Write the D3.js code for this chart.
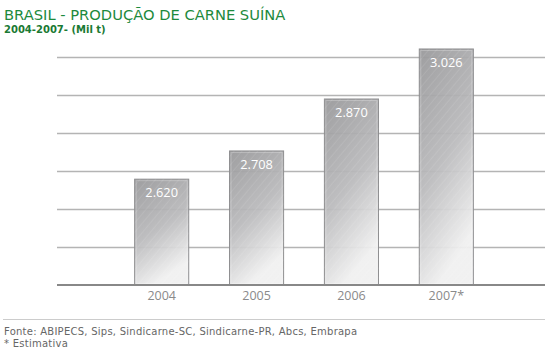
<!DOCTYPE html>
<html>
<head>
<meta charset="utf-8">
<script src="https://cdn.jsdelivr.net/npm/d3@7"></script>
<style>
  html, body { margin: 0; padding: 0; background: #fff; }
  svg { display: block; }
</style>
</head>
<body>
<svg id="chart" width="545" height="355"></svg>
<script>
// ---- data ----
const categories = ["2004", "2005", "2006", "2007*"];
const values = [2620, 2708, 2870, 3026];
const valueLabels = ["2.620", "2.708", "2.870", "3.026"];
const title = "BRASIL - PRODUÇÃO DE CARNE SUÍNA";
const subtitle = "2004-2007- (Mil t)";
const footnotes = ["Fonte: ABIPECS, Sips, Sindicarne-SC, Sindicarne-PR, Abcs, Embrapa", "* Estimativa"];
const yDomain = [2290, 3001];
const gridCount = 6;

// ---- layout ----
const W = 545, H = 355;
const plot = { left: 57, right: 545, top: 57, bottom: 285 };
const svg = d3.select("#chart");

const x = d3.scaleBand()
  .domain(categories)
  .range([87.2, 520.8])
  .paddingInner(0.43)
  .paddingOuter(0.5);

const y = d3.scaleLinear().domain(yDomain).range([plot.bottom, plot.top]);

// defs: gradient + hatch
const defs = svg.append("defs");
const grad = defs.append("linearGradient")
  .attr("id", "barGrad")
  .attr("x1", "0").attr("y1", "0").attr("x2", "0.35").attr("y2", "1");
grad.append("stop").attr("offset", "0%").attr("stop-color", "#98989a");
grad.append("stop").attr("offset", "55%").attr("stop-color", "#bababc");
grad.append("stop").attr("offset", "100%").attr("stop-color", "#f0f0f0");

const pat = defs.append("pattern")
  .attr("id", "hatch").attr("patternUnits", "userSpaceOnUse")
  .attr("width", 6).attr("height", 6)
  .attr("patternTransform", "rotate(40)");
pat.append("line").attr("x1", 0).attr("y1", 0).attr("x2", 0).attr("y2", 6)
  .attr("stroke", "#ffffff").attr("stroke-opacity", 0.18).attr("stroke-width", 1);

// title
svg.append("text").attr("x", 4).attr("y", 20)
  .attr("font-family", "DejaVu Sans, Verdana, sans-serif")
  .attr("font-size", 14.7).attr("fill", "#1d8a3c")
  .text(title);
svg.append("text").attr("x", 4).attr("y", 33)
  .attr("font-family", "DejaVu Sans, Verdana, sans-serif")
  .attr("font-size", 10).attr("font-weight", "bold").attr("fill", "#1a7a34")
  .text(subtitle);

// gridlines
const gridVals = d3.range(1, gridCount + 1).map(i => yDomain[0] + i * (yDomain[1] - yDomain[0]) / gridCount);
svg.append("g").selectAll("line").data(gridVals).join("line")
  .attr("x1", plot.left).attr("x2", plot.right)
  .attr("y1", d => Math.round(y(d)) + 0.5).attr("y2", d => Math.round(y(d)) + 0.5)
  .attr("stroke", "#b4b4b4").attr("stroke-width", 1.5);

// bars
const bars = svg.append("g").selectAll("g").data(categories).join("g");
bars.append("rect")
  .attr("x", d => x(d)).attr("width", x.bandwidth())
  .attr("y", (d, i) => y(values[i])).attr("height", (d, i) => y(yDomain[0]) - y(values[i]))
  .attr("fill", "url(#barGrad)").attr("fill-opacity", 0.94)
  .attr("stroke", "#8e8e90").attr("stroke-width", 1);
bars.append("rect")
  .attr("x", d => x(d)).attr("width", x.bandwidth())
  .attr("y", (d, i) => y(values[i])).attr("height", (d, i) => y(yDomain[0]) - y(values[i]))
  .attr("fill", "url(#hatch)");
bars.append("rect")
  .attr("x", d => x(d) + 1.5).attr("width", x.bandwidth() - 3)
  .attr("y", (d, i) => y(values[i]) + 1.5).attr("height", (d, i) => y(yDomain[0]) - y(values[i]) - 3)
  .attr("fill", "none").attr("stroke", "#ffffff").attr("stroke-opacity", 0.25).attr("stroke-width", 1);
bars.append("text")
  .attr("x", d => x(d) + x.bandwidth() / 2)
  .attr("y", (d, i) => y(values[i]) + 18)
  .attr("text-anchor", "middle")
  .attr("font-family", "Open Sans, sans-serif").attr("font-size", 12.8)
  .attr("fill", "#ffffff")
  .text((d, i) => valueLabels[i]);

// baseline
svg.append("line").attr("x1", plot.left).attr("x2", plot.right)
  .attr("y1", plot.bottom).attr("y2", plot.bottom)
  .attr("stroke", "#888888").attr("stroke-width", 2);

// x axis labels
const xAxis = d3.axisBottom(x).tickSize(0).tickPadding(0);
const gx = svg.append("g").attr("transform", `translate(0,${plot.bottom + 3})`).call(xAxis);
gx.select(".domain").remove();
gx.selectAll("text")
  .attr("dy", "0").attr("y", 12)
  .attr("font-family", "Open Sans, sans-serif").attr("font-size", 12.5)
  .attr("fill", "#8a8a8a");

// separator
svg.append("line").attr("x1", 3).attr("x2", W).attr("y1", 319.5).attr("y2", 319.5)
  .attr("stroke", "#cccccc").attr("stroke-width", 1);

// footnotes
svg.append("g").selectAll("text").data(footnotes).join("text")
  .attr("x", 4).attr("y", (d, i) => 335 + i * 12)
  .attr("font-family", "DejaVu Sans, Verdana, sans-serif")
  .attr("font-size", 10).attr("letter-spacing", 0.25).attr("fill", "#666666")
  .text(d => d);
</script>
</body>
</html>
